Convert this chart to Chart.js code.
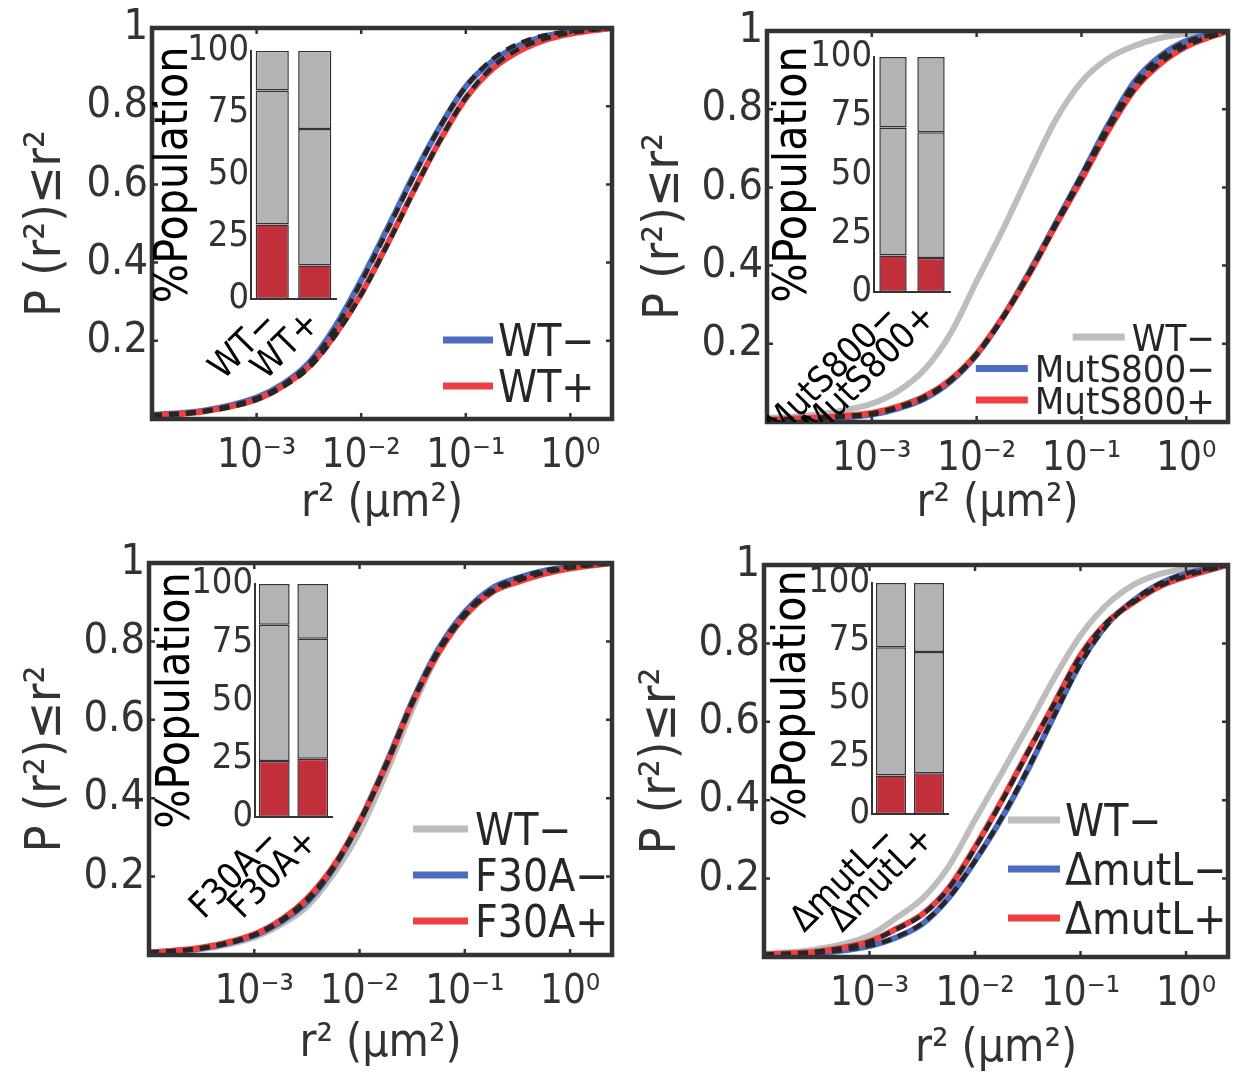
<!DOCTYPE html>
<html>
<head>
<meta charset="utf-8">
<script src="https://cdn.jsdelivr.net/npm/chart.js@4.4.1/dist/chart.umd.min.js"></script>
<style>
body { margin: 0; background: #fff; }
#wrap { position: relative; width: 1238px; height: 1082px; overflow: hidden; }
canvas { position: absolute; }
</style>
</head>
<body>
<div id="wrap">
  <canvas id="m1" width="620" height="540" style="left:0px;top:0px"></canvas>
  <canvas id="m2" width="618" height="540" style="left:620px;top:0px"></canvas>
  <canvas id="m3" width="620" height="542" style="left:0px;top:540px"></canvas>
  <canvas id="m4" width="618" height="542" style="left:620px;top:540px"></canvas>
  <canvas id="i1" width="200" height="370" style="left:152px;top:22px"></canvas>
  <canvas id="i2" width="200" height="400" style="left:767px;top:22px"></canvas>
  <canvas id="i3" width="200" height="400" style="left:150px;top:556px"></canvas>
  <canvas id="i4" width="200" height="400" style="left:766px;top:556px"></canvas>
</div>
<script>
// cumulative distributions P(r2 <= r2)

var r2 = [0.0001, 0.00032, 0.001, 0.0018, 0.0032, 0.0056, 0.01, 0.018, 0.032, 0.056, 0.1, 0.18, 0.32, 0.56, 1, 2.5];
var xTicks = [0.001, 0.01, 0.1, 1];
var xTickLabels = ['10\u207B\u00B3', '10\u207B\u00B2', '10\u207B\u00B9', '10\u2070'];
var yTicks = [0.2, 0.4, 0.6, 0.8, 1];
var yTickLabels = ['0.2', '0.4', '0.6', '0.8', '1'];
var insetTicks = [0, 25, 50, 75, 100];

// panel A : WT
var wtMinus    = [0.010, 0.022, 0.055, 0.090, 0.145, 0.235, 0.355, 0.490, 0.625, 0.745, 0.850, 0.915, 0.955, 0.978, 0.990, 1.000];
var wtPlus     = [0.008, 0.020, 0.050, 0.085, 0.135, 0.215, 0.320, 0.450, 0.585, 0.710, 0.820, 0.895, 0.940, 0.968, 0.985, 1.000];
var wtMinusFit = [0.010, 0.021, 0.053, 0.088, 0.142, 0.230, 0.350, 0.485, 0.622, 0.745, 0.850, 0.920, 0.960, 0.981, 0.992, 1.000];
var wtPlusFit  = [0.008, 0.019, 0.049, 0.083, 0.132, 0.212, 0.318, 0.448, 0.584, 0.710, 0.822, 0.900, 0.946, 0.972, 0.988, 1.000];
var wtCats     = ['WT\u2212', 'WT+'];
var wtImmobile = [30, 13.5];
var wtSlow     = [54, 55];
var wtFast     = [16, 31.5];

// panel B : MutS800
var mutsWT          = [0.010, 0.020, 0.047, 0.080, 0.135, 0.225, 0.360, 0.495, 0.637, 0.770, 0.870, 0.930, 0.962, 0.982, 0.993, 1.000];
var muts800Minus    = [0.004, 0.009, 0.019, 0.035, 0.060, 0.103, 0.172, 0.270, 0.385, 0.505, 0.630, 0.760, 0.870, 0.935, 0.975, 1.000];
var muts800Plus     = [0.006, 0.012, 0.023, 0.040, 0.066, 0.108, 0.175, 0.270, 0.380, 0.500, 0.620, 0.745, 0.850, 0.915, 0.960, 1.000];
var muts800MinusFit = [0.004, 0.010, 0.020, 0.036, 0.061, 0.104, 0.172, 0.268, 0.383, 0.505, 0.630, 0.758, 0.866, 0.932, 0.972, 1.000];
var muts800PlusFit  = [0.005, 0.011, 0.022, 0.039, 0.065, 0.107, 0.174, 0.270, 0.381, 0.500, 0.622, 0.748, 0.852, 0.918, 0.962, 1.000];
var mutsCats     = ['MutS800\u2212', 'MutS800+'];
var mutsImmobile = [15.5, 14.5];
var mutsSlow     = [54.5, 53.5];
var mutsFast     = [30, 32];

// panel C : F30A
var f30WT        = [0.005, 0.015, 0.045, 0.078, 0.125, 0.205, 0.315, 0.465, 0.630, 0.770, 0.865, 0.925, 0.958, 0.978, 0.990, 1.000];
var f30aMinus    = [0.006, 0.017, 0.050, 0.085, 0.136, 0.220, 0.340, 0.490, 0.650, 0.780, 0.875, 0.935, 0.962, 0.980, 0.990, 1.000];
var f30aPlus     = [0.006, 0.019, 0.053, 0.090, 0.145, 0.225, 0.340, 0.485, 0.645, 0.770, 0.865, 0.925, 0.952, 0.972, 0.986, 1.000];
var f30aMinusFit = [0.006, 0.017, 0.050, 0.086, 0.138, 0.220, 0.338, 0.488, 0.648, 0.778, 0.872, 0.932, 0.962, 0.980, 0.991, 1.000];
var f30aPlusFit  = [0.006, 0.018, 0.052, 0.089, 0.143, 0.224, 0.340, 0.486, 0.645, 0.772, 0.866, 0.926, 0.955, 0.975, 0.988, 1.000];
var f30Cats     = ['F30A\u2212', 'F30A+'];
var f30Immobile = [24, 25];
var f30Slow     = [58.5, 51.5];
var f30Fast     = [17.5, 23.5];

// panel D : delta mutL
var mutlWT       = [0.008, 0.020, 0.055, 0.100, 0.150, 0.230, 0.350, 0.470, 0.590, 0.710, 0.820, 0.900, 0.950, 0.977, 0.990, 1.000];
var mutlMinus    = [0.006, 0.010, 0.028, 0.050, 0.085, 0.150, 0.245, 0.355, 0.480, 0.615, 0.750, 0.850, 0.910, 0.952, 0.978, 1.000];
var mutlPlus     = [0.006, 0.014, 0.040, 0.072, 0.110, 0.175, 0.280, 0.400, 0.525, 0.645, 0.770, 0.855, 0.905, 0.945, 0.970, 1.000];
var mutlMinusFit = [0.006, 0.011, 0.029, 0.051, 0.087, 0.150, 0.245, 0.357, 0.482, 0.615, 0.748, 0.848, 0.910, 0.952, 0.978, 1.000];
var mutlPlusFit  = [0.006, 0.014, 0.039, 0.071, 0.109, 0.174, 0.278, 0.398, 0.524, 0.645, 0.768, 0.855, 0.906, 0.946, 0.972, 1.000];
var mutlCats     = ['\u0394mutL\u2212', '\u0394mutL+'];
var mutlImmobile = [16.7, 17.6];
var mutlSlow     = [55.5, 52.5];
var mutlFast     = [27.8, 29.9];

var FONT = "'DejaVu Sans Condensed', 'DejaVu Sans', sans-serif";
var BLUE = '#4c6cc2';
var RED = '#ee4040';
var GRAY = '#bdbdbd';
var DARK = '#262626';
var BAR_RED = '#c1303a';
var BAR_GRAY = '#b1b3b5';

Chart.defaults.font.family = FONT;
Chart.defaults.color = '#333';
Chart.defaults.animation = false;

// thick box round the plot area, with short inward ticks
var framePlugin = {
    id: 'frame',
    afterDatasetsDraw: function(chart) {
        var a = chart.chartArea, ctx = chart.ctx;
        var sx = chart.scales.x, sy = chart.scales.y;
        ctx.save();
        ctx.strokeStyle = '#333';
        ctx.lineWidth = 2.5;
        ctx.beginPath();
        sx.ticks.forEach(function(t) {
            var px = sx.getPixelForValue(t.value);
            ctx.moveTo(px, a.bottom); ctx.lineTo(px, a.bottom - 6);
            ctx.moveTo(px, a.top); ctx.lineTo(px, a.top + 6);
        });
        sy.ticks.forEach(function(t) {
            var py = sy.getPixelForValue(t.value);
            ctx.moveTo(a.left, py); ctx.lineTo(a.left + 6, py);
            ctx.moveTo(a.right, py); ctx.lineTo(a.right - 6, py);
        });
        ctx.stroke();
        ctx.lineWidth = 4.5;
        ctx.strokeRect(a.left, a.top, a.right - a.left, a.bottom - a.top);
        ctx.restore();
    }
};

// matlab style legend sitting in the lower right corner of the plot
var boxLegend = {
    id: 'boxLegend',
    afterDraw: function(chart, args, opts) {
        var a = chart.chartArea, ctx = chart.ctx;
        var items = chart.data.datasets.filter(function(d) { return d.inLegend; });
        ctx.save();
        ctx.font = opts.size + 'px ' + FONT;
        ctx.fillStyle = '#262626';
        ctx.textBaseline = 'alphabetic';
        items.forEach(function(d, i) {
            var y = a.bottom - opts.bottom - (items.length - 1 - i) * opts.rowH;
            var tx;
            if (opts.align == 'right') {
                tx = a.right - opts.right - ctx.measureText(d.label).width;
            } else {
                tx = a.right - opts.right;
            }
            ctx.strokeStyle = d.borderColor;
            ctx.lineWidth = 7;
            ctx.beginPath();
            ctx.moveTo(tx - opts.gap - opts.lineLen, y);
            ctx.lineTo(tx - opts.gap, y);
            ctx.stroke();
            ctx.fillText(d.label, tx, y + opts.size * 0.36);
        });
        ctx.restore();
    }
};

// chart.js paints the lowest "order" last, so fits get 0 to sit on top
function curve(label, ys, color, legend, dashed, order) {
    return {
        label: label,
        data: ys.map(function(y, i) { return {x: r2[i], y: y}; }),
        borderColor: color,
        borderWidth: dashed ? 4.5 : 6,
        borderDash: dashed ? [10, 7] : [],
        pointRadius: 0,
        cubicInterpolationMode: 'monotone',
        fill: false,
        order: order,
        inLegend: legend
    };
}

function mainChart(id, datasets, g, leg) {
    return new Chart(document.getElementById(id), {
        type: 'line',
        data: {datasets: datasets},
        options: {
            responsive: false,
            animation: false,
            layout: {padding: {left: 0, top: g.top, right: g.right, bottom: 0}},
            plugins: {legend: {display: false}, tooltip: {enabled: false}, boxLegend: leg},
            scales: {
                x: {
                    type: 'logarithmic', min: 0.0001, max: 2.5,
                    grid: {display: false, drawTicks: false},
                    border: {display: false},
                    afterBuildTicks: function(s) { s.ticks = xTicks.map(function(v) { return {value: v}; }); },
                    afterFit: function(s) { s.height = g.xh; s.paddingLeft = 0; s.paddingRight = 0; },
                    ticks: {
                        autoSkip: false, maxRotation: 0, padding: 14, color: '#333',
                        font: {size: 40},
                        callback: function(v, i) { return xTickLabels[i]; }
                    },
                    title: {display: true, text: 'r\u00B2 (\u03BCm\u00B2)', color: '#333', font: {size: 46}, padding: {top: 0, bottom: g.xtp}}
                },
                y: {
                    min: 0, max: 1,
                    grid: {display: false, drawTicks: false},
                    border: {display: false},
                    afterBuildTicks: function(s) { s.ticks = yTicks.map(function(v) { return {value: v}; }); },
                    afterFit: function(s) { s.width = g.yw; s.paddingTop = 0; s.paddingBottom = 0; },
                    ticks: {
                        padding: 4, color: '#333',
                        font: {size: 43},
                        callback: function(v, i) { return yTickLabels[i]; }
                    },
                    title: {display: true, text: 'P (r\u00B2)\u2264r\u00B2', color: '#333', font: {size: 50, lineHeight: 1.1}, padding: {top: g.ytp, bottom: 0}}
                }
            }
        },
        plugins: [framePlugin, boxLegend]
    });
}

function segment(values, colour, bp) {
    return {
        data: values,
        backgroundColor: colour,
        borderColor: '#333',
        borderWidth: 1.5,
        borderSkipped: false,
        barPercentage: bp,
        categoryPercentage: 1
    };
}

function insetChart(id, cats, immobile, slow, fast, g) {
    return new Chart(document.getElementById(id), {
        type: 'bar',
        data: {
            labels: cats,
            datasets: [segment(immobile, BAR_RED, g.bp), segment(slow, BAR_GRAY, g.bp), segment(fast, BAR_GRAY, g.bp)]
        },
        options: {
            responsive: false,
            animation: false,
            layout: {padding: {left: 0, top: g.top, right: g.right, bottom: 0}},
            plugins: {legend: {display: false}, tooltip: {enabled: false}},
            scales: {
                x: {
                    stacked: true,
                    grid: {display: false, drawTicks: false},
                    border: {display: true, color: '#333', width: 2},
                    afterFit: function(s) { s.height = g.xh; s.paddingLeft = 0; s.paddingRight = 0; },
                    ticks: {autoSkip: false, minRotation: 45, maxRotation: 45, padding: 4, color: '#000', font: {size: 36}}
                },
                y: {
                    stacked: true, min: 0, max: 100,
                    grid: {display: false, drawTicks: false},
                    border: {display: true, color: '#333', width: 2},
                    afterBuildTicks: function(s) { s.ticks = insetTicks.map(function(v) { return {value: v}; }); },
                    afterFit: function(s) { s.width = g.yw; s.paddingTop = 0; s.paddingBottom = 0; },
                    ticks: {padding: 2, color: '#333', font: {size: 36}},
                    title: {display: true, text: '%Population', color: '#000', font: {size: 46, lineHeight: 1}, padding: {top: g.tp, bottom: 0}}
                }
            }
        }
    });
}

window.onload = function() {
    mainChart('m1', [
        curve('WT\u2212', wtMinus, BLUE, true, false, 2),
        curve('WT+', wtPlus, RED, true, false, 1),
        curve('fit WT\u2212', wtMinusFit, DARK, false, true, 0),
        curve('fit WT+', wtPlusFit, DARK, false, true, 0)
    ], {top: 28, right: 8, yw: 152, xh: 121, ytp: 20, xtp: 8},
       {size: 44, rowH: 46, bottom: 33, right: 114, gap: 5, lineLen: 50, align: 'left'});

    mainChart('m2', [
        curve('WT\u2212', mutsWT, GRAY, true, false, 3),
        curve('MutS800\u2212', muts800Minus, BLUE, true, false, 2),
        curve('MutS800+', muts800Plus, RED, true, false, 1),
        curve('fit MutS800\u2212', muts800MinusFit, DARK, false, true, 0),
        curve('fit MutS800+', muts800PlusFit, DARK, false, true, 0)
    ], {top: 31, right: 10, yw: 147, xh: 118, ytp: 18, xtp: 8},
       {size: 38, rowH: 31.5, bottom: 22, right: 13, gap: 7, lineLen: 52, align: 'right'});

    mainChart('m3', [
        curve('WT\u2212', f30WT, GRAY, true, false, 3),
        curve('F30A\u2212', f30aMinus, BLUE, true, false, 2),
        curve('F30A+', f30aPlus, RED, true, false, 1),
        curve('fit F30A\u2212', f30aMinusFit, DARK, false, true, 0),
        curve('fit F30A+', f30aPlusFit, DARK, false, true, 0)
    ], {top: 23, right: 8, yw: 149, xh: 127, ytp: 20, xtp: 10},
       {size: 44, rowH: 46, bottom: 34, right: 137, gap: 7, lineLen: 55, align: 'left'});

    mainChart('m4', [
        curve('WT\u2212', mutlWT, GRAY, true, false, 3),
        curve('\u0394mutL\u2212', mutlMinus, BLUE, true, false, 2),
        curve('\u0394mutL+', mutlPlus, RED, true, false, 1),
        curve('fit \u0394mutL\u2212', mutlMinusFit, DARK, false, true, 0),
        curve('fit \u0394mutL+', mutlPlusFit, DARK, false, true, 0)
    ], {top: 25, right: 10, yw: 144, xh: 125, ytp: 15, xtp: 5},
       {size: 44, rowH: 49, bottom: 39, right: 163, gap: 5, lineLen: 52, align: 'left'});

    insetChart('i1', wtCats, wtImmobile, wtSlow, wtFast, {top: 28.7, right: 16, yw: 99, xh: 93, tp: 0, bp: 0.78});
    insetChart('i2', mutsCats, mutsImmobile, mutsSlow, mutsFast, {top: 35, right: 17, yw: 107, xh: 130, tp: 4, bp: 0.72});
    insetChart('i3', f30Cats, f30Immobile, f30Slow, f30Fast, {top: 28, right: 18, yw: 105, xh: 139, tp: 4, bp: 0.8});
    insetChart('i4', mutlCats, mutlImmobile, mutlSlow, mutlFast, {top: 27, right: 18, yw: 106, xh: 142, tp: 4, bp: 0.79});
};
</script>
</body>
</html>
